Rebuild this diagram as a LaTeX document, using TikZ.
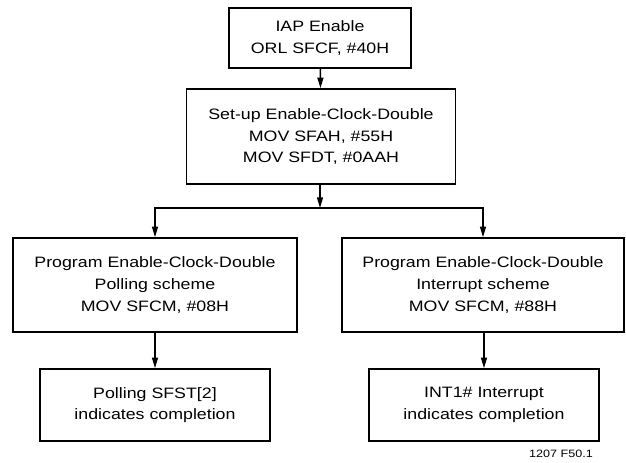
\documentclass[tikz,border=0pt]{standalone}
\usepackage{fontspec}
\setmainfont[FakeStretch=1.18]{Liberation Sans}
\usetikzlibrary{arrows.meta}
\tikzset{
    stepbox/.style={draw, line width=1.2pt, align=center, inner sep=0pt,
        font=\fontsize{11.3}{16.2}\selectfont},
    flow/.style={-{Triangle[length=8pt,width=4.5pt]}, line width=1.2pt}
}
\begin{document}
\begin{tikzpicture}[x=0.75pt, y=-0.75pt]
    \useasboundingbox (0,0) rectangle (626,462);
    \node[stepbox, minimum width=136.5pt, minimum height=45pt] (iap) at (320, 38)
        {IAP Enable\\ORL SFCF, \#40H};
    \node[stepbox, minimum width=201.75pt, minimum height=71.25pt] (setup) at (321, 136.5)
        {Set-up Enable-Clock-Double\\MOV SFAH, \#55H\\MOV SFDT, \#0AAH};
    \node[stepbox, minimum width=213pt, minimum height=70.5pt] (poll) at (155, 285)
        {Program Enable-Clock-Double\\Polling scheme\\MOV SFCM, \#08H};
    \node[stepbox, minimum width=211.5pt, minimum height=70.5pt] (intr) at (483, 285)
        {Program Enable-Clock-Double\\Interrupt scheme\\MOV SFCM, \#88H};
    \node[stepbox, minimum width=172.5pt, minimum height=54pt] (pollend) at (155, 405)
        {Polling SFST[2]\\indicates completion};
    \node[stepbox, minimum width=172.5pt, minimum height=54pt] (intrend) at (484, 405)
        {INT1\# Interrupt\\indicates completion};
    \node[font=\fontsize{8}{9}\selectfont] (fig) at (561, 454) {1207 F50.1};

    \coordinate (split) at (320, 208);
    \draw[flow] (iap) -- (setup);
    \draw[flow] (setup.south -| split) -- (split);
    \draw[flow] (split) -| (poll);
    \draw[flow] (split) -| (intr);
    \draw[flow] (poll) -- (pollend);
    \draw[flow] (intr.south -| intrend) -- (intrend);
\end{tikzpicture}
\end{document}
